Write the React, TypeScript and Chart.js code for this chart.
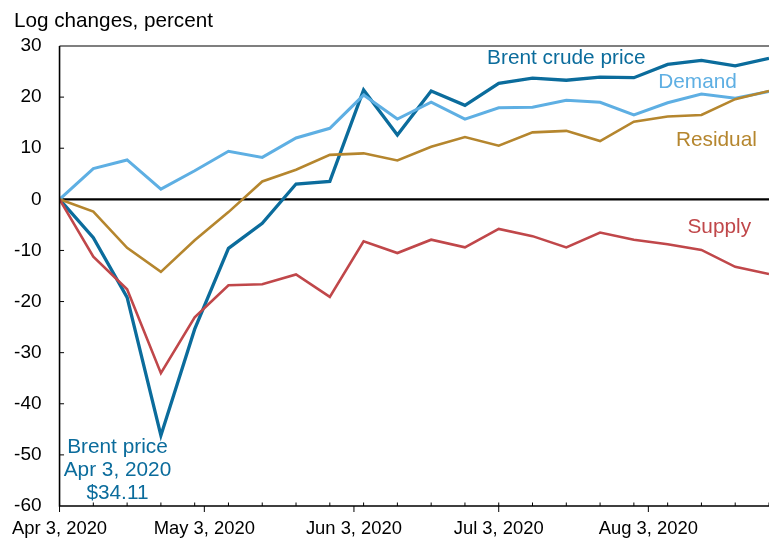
import React, { useEffect, useRef } from "react";
import { Chart, registerables } from "chart.js";
Chart.register(...registerables);

// Weekly observation dates
const dates = [
  "2020-04-03", "2020-04-10", "2020-04-17", "2020-04-24", "2020-05-01", "2020-05-08",
  "2020-05-15", "2020-05-22", "2020-05-29", "2020-06-05", "2020-06-12", "2020-06-19",
  "2020-06-26", "2020-07-03", "2020-07-10", "2020-07-17", "2020-07-24", "2020-07-31",
  "2020-08-07", "2020-08-14", "2020-08-21", "2020-08-28",
];

// Log changes, percent
const brent = [0, -7.5, -19.2, -46.2, -25.4, -9.6, -4.7, 3.0, 3.5, 21.4, 12.6, 21.2, 18.4, 22.7, 23.7, 23.3, 23.9, 23.8, 26.4, 27.2, 26.1, 27.6];
const demand = [0, 6.0, 7.7, 2.0, 5.6, 9.4, 8.2, 12.0, 13.9, 20.4, 15.7, 19.0, 15.7, 17.9, 18.0, 19.4, 19.0, 16.5, 18.9, 20.6, 19.8, 21.1];
const residual = [0, -2.4, -9.5, -14.2, -8.0, -2.5, 3.5, 5.8, 8.7, 9.0, 7.6, 10.3, 12.2, 10.5, 13.1, 13.4, 11.4, 15.2, 16.2, 16.5, 19.6, 21.2];
const supply = [0, -11.2, -17.6, -34.0, -23.1, -16.8, -16.6, -14.7, -19.1, -8.2, -10.5, -7.9, -9.4, -5.8, -7.2, -9.4, -6.5, -7.9, -8.8, -9.9, -13.2, -14.6];

// Axis tick labels
const xTickDates = ["2020-04-03", "2020-05-03", "2020-06-03", "2020-07-03", "2020-08-03"];
const xTickLabels = ["Apr 3, 2020", "May 3, 2020", "Jun 3, 2020", "Jul 3, 2020", "Aug 3, 2020"];
const yTicks = [30, 20, 10, 0, -10, -20, -30, -40, -50, -60];

const COLORS = {
  brent: "#0b6c9c",
  demand: "#5eafe3",
  residual: "#b5862e",
  supply: "#c0474a",
};

const FONT = "'Liberation Sans', Arial, sans-serif";
const START = Date.UTC(2020, 3, 3);
const toDay = (s: string) => {
  const [y, m, d] = s.split("-").map(Number);
  return Math.round((Date.UTC(y, m - 1, d) - START) / 86400000);
};
const days = dates.map(toDay);
const xTickDays = xTickDates.map(toDay);
const X_MAX = days[days.length - 1];

const annotations = [
  { lines: ["Brent crude price"], day: 105, value: 27.6, color: COLORS.brent },
  { lines: ["Demand"], day: 132.2, value: 22.9, color: COLORS.demand },
  { lines: ["Residual"], day: 136.1, value: 11.6, color: COLORS.residual },
  { lines: ["Supply"], day: 136.7, value: -5.4, color: COLORS.supply },
  { lines: ["Brent price", "Apr 3, 2020", "$34.11"], day: 12.0, value: -48.6, color: COLORS.brent },
];

const decorPlugin = {
  id: "decor",
  beforeDatasetsDraw(chart: any) {
    const { ctx, chartArea } = chart;
    const { left, right } = chartArea;
    const ys = chart.scales.y;
    ctx.save();
    ctx.strokeStyle = "#000";
    ctx.lineWidth = 2.2;
    const y0 = ys.getPixelForValue(0);
    ctx.beginPath();
    ctx.moveTo(left, y0);
    ctx.lineTo(right, y0);
    ctx.stroke();
    ctx.restore();
  },
  afterDatasetsDraw(chart: any) {
    const { ctx, chartArea } = chart;
    const { left, right, top, bottom } = chartArea;
    const xs = chart.scales.x;
    const ys = chart.scales.y;
    ctx.save();
    ctx.strokeStyle = "#000";
    ctx.lineWidth = 1.2;
    ctx.beginPath();
    ctx.moveTo(left, top);
    ctx.lineTo(right, top);
    ctx.stroke();
    ctx.lineWidth = 1.6;
    ctx.beginPath();
    ctx.moveTo(left, top);
    ctx.lineTo(left, bottom);
    ctx.lineTo(right, bottom);
    ctx.stroke();
    ctx.lineWidth = 1;
    for (const v of yTicks) {
      if (v === 30 || v === -60 || v === 0) continue;
      const y = ys.getPixelForValue(v);
      ctx.beginPath();
      ctx.moveTo(left, y);
      ctx.lineTo(left + 4.5, y);
      ctx.stroke();
    }
    for (const d of days) {
      const x = xs.getPixelForValue(d);
      ctx.beginPath();
      ctx.moveTo(x, bottom);
      ctx.lineTo(x, bottom - 3.5);
      ctx.stroke();
    }
    for (const d of xTickDays) {
      const x = xs.getPixelForValue(d);
      ctx.beginPath();
      ctx.moveTo(x, bottom);
      ctx.lineTo(x, bottom + 6);
      ctx.stroke();
    }
    ctx.fillStyle = "#000";
    ctx.font = `20.7px ${FONT}`;
    ctx.textAlign = "left";
    ctx.textBaseline = "alphabetic";
    ctx.fillText("Log changes, percent", 14, 27);
    ctx.font = `20.8px ${FONT}`;
    ctx.textAlign = "center";
    ctx.textBaseline = "middle";
    for (const a of annotations) {
      ctx.fillStyle = a.color;
      const x = xs.getPixelForValue(a.day);
      const y = ys.getPixelForValue(a.value);
      a.lines.forEach((t, i) => ctx.fillText(t, x, y + i * 22.7));
    }
    ctx.restore();
  },
};

export default function App() {
  const ref = useRef<HTMLCanvasElement | null>(null);
  useEffect(() => {
    if (!ref.current) return;
    const mk = (label: string, vals: number[], color: string, w: number) => ({
      label,
      data: vals.map((v, i) => ({ x: days[i], y: v })),
      borderColor: color,
      backgroundColor: color,
      borderWidth: w,
      pointRadius: 0,
      tension: 0,
      fill: false,
    });
    const chart = new Chart(ref.current, {
      type: "line",
      data: {
        datasets: [
          mk("Supply", supply, COLORS.supply, 2.6),
          mk("Residual", residual, COLORS.residual, 2.6),
          mk("Demand", demand, COLORS.demand, 3),
          mk("Brent crude price", brent, COLORS.brent, 3.3),
        ],
      },
      options: {
        animation: false,
        responsive: false,
        devicePixelRatio: 1,
        layout: { padding: { top: 46, left: 0, right: 0, bottom: 0 } },
        plugins: { legend: { display: false }, tooltip: { enabled: false } },
        scales: {
          x: {
            type: "linear",
            min: 0,
            max: X_MAX,
            grid: { display: false, drawTicks: false },
            border: { display: false },
            afterBuildTicks: (scale: any) => {
              scale.ticks = xTickDays.map((v) => ({ value: v }));
            },
            afterFit: (scale: any) => {
              scale.height = 33;
            },
            ticks: {
              autoSkip: false,
              maxRotation: 0,
              padding: 12,
              color: "#000",
              font: { family: FONT, size: 18.4 },
              callback: (v: any) => {
                const i = xTickDays.indexOf(Number(v));
                return i >= 0 ? xTickLabels[i] : "";
              },
            },
          },
          y: {
            type: "linear",
            min: -60,
            max: 30,
            grid: { display: false, drawTicks: false },
            border: { display: false },
            afterBuildTicks: (scale: any) => {
              scale.ticks = yTicks.map((v) => ({ value: v }));
            },
            afterFit: (scale: any) => {
              scale.width = 58.7;
            },
            ticks: {
              padding: 18,
              color: "#000",
              font: { family: FONT, size: 19 },
              callback: (v: any) => String(v),
            },
          },
        },
      },
      plugins: [decorPlugin],
    });
    return () => chart.destroy();
  }, []);
  return (
    <div style={{ position: "fixed", left: 0, top: 0, width: 769, height: 539, background: "#fff" }}>
      <canvas ref={ref} width={769} height={539} style={{ width: 769, height: 539, display: "block" }} />
    </div>
  );
}
